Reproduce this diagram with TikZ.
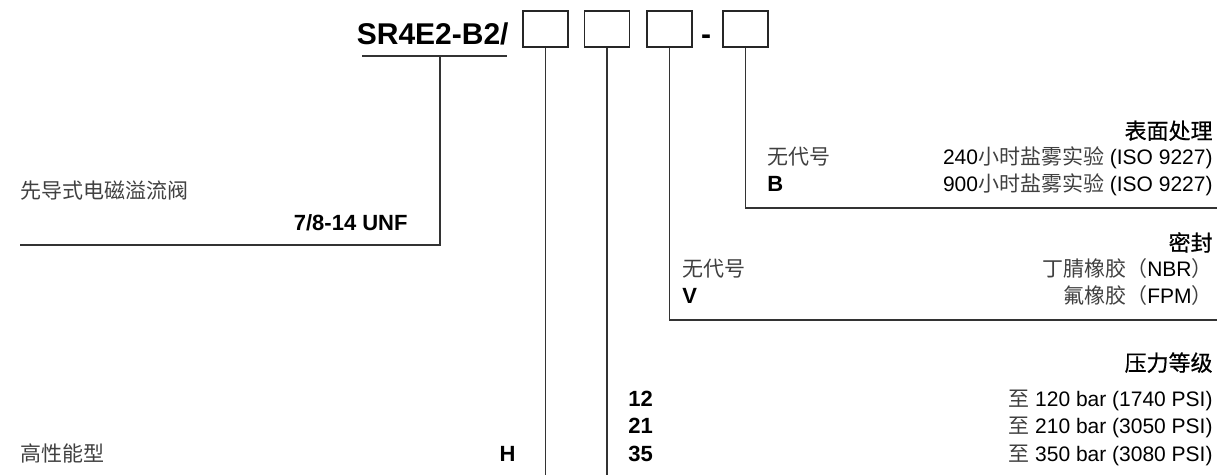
\documentclass[tikz,border=0pt]{standalone}
\usepackage{fontspec}
\setmainfont{Liberation Sans}
\newfontfamily\cjk{Noto Sans CJK SC}
\newfontfamily\cjkhead[FakeBold=0.6]{Noto Sans CJK SC}

\tikzset{
  codebox/.style={draw, black!85, line width=0.7pt, minimum width=22.5pt, minimum height=18pt},
  lead/.style={black!80, line width=0.6pt},
  txt/.style={inner sep=0pt, font=\fontsize{10.5}{12}\selectfont},
  code/.style={inner sep=0pt, font=\fontsize{11}{13}\selectfont\bfseries},
  head/.style={inner sep=0pt, font=\fontsize{11}{13}\selectfont\cjkhead},
  big/.style={inner sep=0pt, font=\fontsize{15}{18}\selectfont\bfseries}
}
\newcommand{\zh}[1]{{\cjk\color{black!75}#1}}

\begin{document}
\begin{tikzpicture}[x=0.5pt, y=-0.5pt]
 \useasboundingbox (0,0) rectangle (1217,475);

 % type code
 \node[big, anchor=base east] (title) at (509,45) {SR4E2-B2/};
 \node[codebox] (b1) at (545.5,29) {};
 \node[codebox] (b2) at (607,29) {};
 \node[codebox] (b3) at (669.5,29) {};
 \node[big, anchor=base] (dash) at (706,45) {-};
 \node[codebox] (b4) at (745.5,29) {};

 \coordinate (ul0) at (362,56);
 \coordinate (ul1) at (507,56);
 \coordinate (tap) at (440,56);
 \coordinate (lend) at (20,245);
 \coordinate (e1) at (545.5,475);
 \coordinate (e2) at (607,475);
 \coordinate (e3) at (1217,320);
 \coordinate (e4) at (1217,208);

 \draw[lead] (ul0) -- (ul1);
 \draw[lead] (tap) |- (lend);
 \draw[lead] (b1.south) -- (e1);
 \draw[lead] (b2.south) -- (e2);
 \draw[lead] (b3.south) |- (e3);
 \draw[lead] (b4.south) |- (e4);

 % surface
 \node[head, anchor=base east] (surf) at (1213,139) {表面处理};
 \node[txt, anchor=base west] (s0) at (767,165) {\zh{无代号}};
 \node[txt, anchor=base east] (s0t) at (1213,165) {240\zh{小时盐雾实验} (ISO 9227)};
 \node[code, anchor=base west] (s1) at (767,192) {B};
 \node[txt, anchor=base east] (s1t) at (1213,192) {900\zh{小时盐雾实验} (ISO 9227)};

 % seal
 \node[head, anchor=base east] (seal) at (1213,251) {密封};
 \node[txt, anchor=base west] (d0) at (682,277) {\zh{无代号}};
 \node[txt, anchor=base east] (d0t) at (1213,277) {\zh{丁腈橡胶（}NBR\zh{）}};
 \node[code, anchor=base west] (d1) at (682,304) {V};
 \node[txt, anchor=base east] (d1t) at (1213,304) {\zh{氟橡胶（}FPM\zh{）}};

 % valve
 \node[txt, anchor=base west] (valve) at (20,199) {\zh{先导式电磁溢流阀}};
 \node[code, anchor=base east] (port) at (408,231) {7/8-14 UNF};

 % pressure
 \node[head, anchor=base east] (pres) at (1213,371) {压力等级};
 \node[code, anchor=base west] (p12) at (628,407) {12};
 \node[txt, anchor=base east] (p12t) at (1213,407) {\zh{至} 120 bar (1740 PSI)};
 \node[code, anchor=base west] (p21) at (628,434) {21};
 \node[txt, anchor=base east] (p21t) at (1213,434) {\zh{至} 210 bar (3050 PSI)};
 \node[code, anchor=base west] (p35) at (628,462) {35};
 \node[txt, anchor=base east] (p35t) at (1213,462) {\zh{至} 350 bar (3080 PSI)};

 % version
 \node[txt, anchor=base west] (hp) at (20,462) {\zh{高性能型}};
 \node[code, anchor=base east] (h) at (516,462) {H};
\end{tikzpicture}
\end{document}
